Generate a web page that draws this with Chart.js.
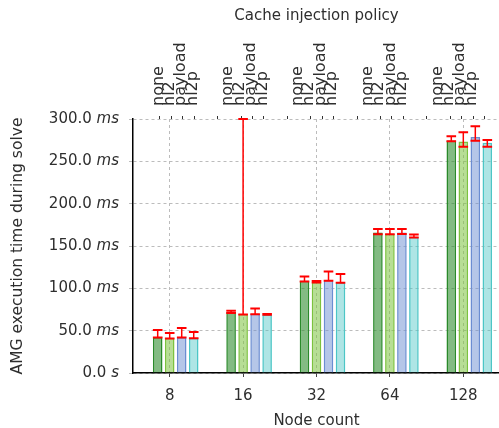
<!DOCTYPE html>
<html>
<head>
<meta charset="utf-8">
<script src="https://cdn.jsdelivr.net/npm/chart.js@4/dist/chart.umd.min.js"></script>
<style>
  html, body { margin: 0; padding: 0; background: #fff; overflow: hidden; }
  canvas { display: block; }
</style>
</head>
<body>
<canvas id="chart" width="500" height="428"></canvas>
<script>
// Node counts along the bottom axis, cache policies along the top axis
const NODE_COUNTS = ['8', '16', '32', '64', '128'];
const POLICIES = ['none', 'hl2', 'payload', 'hl2p'];

// AMG execution time during solve (ms), one value per node count
const TIME_NONE    = [42.2, 71.9, 108.9, 166.0, 274.6];
const TIME_HL2     = [41.4, 69.6, 107.5, 164.3, 273.5];
const TIME_PAYLOAD = [42.2, 70.0, 109.7, 166.0, 278.6];
const TIME_HL2P    = [41.4, 69.1, 106.9, 160.5, 272.0];

// Error bar extents (ms)
const LOW_NONE     = [41.8, 71.0, 108.0, 164.0, 273.8];
const LOW_HL2      = [40.8, 69.0, 107.0, 164.0, 267.3];
const LOW_PAYLOAD  = [41.8, 69.5, 109.0, 164.3, 274.4];
const LOW_HL2P     = [41.0, 68.8, 106.5, 160.0, 267.3];
const HIGH_NONE    = [50.8, 73.5, 114.0, 170.2, 279.5];
const HIGH_HL2     = [47.3, 300.0, 108.8, 170.2, 284.3];
const HIGH_PAYLOAD = [53.2, 76.2, 119.8, 170.2, 291.5];
const HIGH_HL2P    = [48.5, 69.8, 116.8, 163.5, 275.2];

// Y axis tick labels
const Y_TICKS = [0, 50, 100, 150, 200, 250, 300];

const FONT_FAMILY = 'DejaVu Sans';
const TEXT_COLOR = '#2e2e2e';
const GRID_COLOR = '#bcbcbc';
const CAT_PCT = 0.818;
const BAR_PCT = 0.8;
const SLOTS = POLICIES.length + 1;   // one empty slot leads each group

const series = [
  { label: POLICIES[0], data: TIME_NONE,    low: LOW_NONE,    high: HIGH_NONE,    border: '#2a8a2a', fill: 'rgba(42,138,42,0.58)' },
  { label: POLICIES[1], data: TIME_HL2,     low: LOW_HL2,     high: HIGH_HL2,     border: '#7cc23e', fill: 'rgba(124,194,62,0.55)' },
  { label: POLICIES[2], data: TIME_PAYLOAD, low: LOW_PAYLOAD, high: HIGH_PAYLOAD, border: '#6b8dd2', fill: 'rgba(107,141,210,0.5)' },
  { label: POLICIES[3], data: TIME_HL2P,    low: LOW_HL2P,    high: HIGH_HL2P,    border: '#4cc6c6', fill: 'rgba(76,198,198,0.45)' }
];

const datasets = [
  { label: '', data: NODE_COUNTS.map(() => null) }
].concat(series.map(s => ({
  label: s.label,
  data: s.data,
  errLow: s.low,
  errHigh: s.high,
  backgroundColor: s.fill,
  borderColor: s.border,
  borderWidth: { left: 1.5, right: 1.5, top: 1.5, bottom: 0 },
  borderSkipped: 'start'
})));

// Top axis tick positions: one per bar, in category units
const topTickValues = [];
NODE_COUNTS.forEach((_, g) => {
  POLICIES.forEach((_, k) => {
    topTickValues.push(g + (k + 1 - (SLOTS - 1) / 2) * CAT_PCT / SLOTS);
  });
});

const errorBars = {
  id: 'errorBars',
  afterDatasetsDraw(chart) {
    const ctx = chart.ctx;
    const yScale = chart.scales.y;
    ctx.save();
    ctx.strokeStyle = '#ff0000';
    chart.data.datasets.forEach((ds, di) => {
      if (!ds.errLow) return;
      const meta = chart.getDatasetMeta(di);
      meta.data.forEach((bar, i) => {
        const x = bar.x;
        const half = bar.width / 2;
        const yl = yScale.getPixelForValue(ds.errLow[i]);
        const yh = yScale.getPixelForValue(ds.errHigh[i]);
        ctx.lineWidth = 1.5;
        ctx.beginPath();
        ctx.moveTo(x, yl);
        ctx.lineTo(x, yh);
        ctx.stroke();
        ctx.lineWidth = 2;
        ctx.beginPath();
        ctx.moveTo(x - half, yl);
        ctx.lineTo(x + half, yl);
        ctx.moveTo(x - half, yh);
        ctx.lineTo(x + half, yh);
        ctx.stroke();
      });
    });
    ctx.restore();
  }
};

// Y tick labels: number upright, unit in italics
const yLabels = {
  id: 'yLabels',
  afterDraw(chart) {
    const ctx = chart.ctx;
    const yScale = chart.scales.y;
    const xRight = chart.chartArea.left - 14;
    ctx.save();
    ctx.fillStyle = TEXT_COLOR;
    ctx.textBaseline = 'middle';
    ctx.textAlign = 'right';
    Y_TICKS.forEach(v => {
      const py = yScale.getPixelForValue(v);
      const unit = v === 0 ? 's' : 'ms';
      ctx.font = 'italic 15px "' + FONT_FAMILY + '"';
      const uw = ctx.measureText(unit).width;
      ctx.fillText(unit, xRight, py);
      ctx.font = '15px "' + FONT_FAMILY + '"';
      ctx.fillText(v.toFixed(1) + ' ', xRight - uw, py);
    });
    ctx.restore();
  }
};

const font = { family: FONT_FAMILY, size: 15 };

new Chart(document.getElementById('chart'), {
  type: 'bar',
  data: { labels: NODE_COUNTS, datasets },
  options: {
    responsive: false,
    animation: false,
    devicePixelRatio: 1,
    categoryPercentage: CAT_PCT,
    barPercentage: BAR_PCT,
    layout: { padding: 0 },
    plugins: {
      legend: { display: false },
      title: { display: false },
      tooltip: { enabled: false }
    },
    scales: {
      x: {
        type: 'category',
        position: 'bottom',
        offset: true,
        grid: { offset: false, color: GRID_COLOR, lineWidth: 1, tickLength: 4, tickColor: '#444' },
        border: { display: true, color: '#000', width: 1.5, dash: [3, 3] },
        ticks: { font, color: TEXT_COLOR, padding: 10, maxRotation: 0 },
        title: { display: true, text: 'Node count', font, color: TEXT_COLOR, padding: { top: 0, bottom: -2 } },
        afterFit(s) { s.height = 55; }
      },
      top: {
        type: 'linear',
        position: 'top',
        min: -0.5,
        max: NODE_COUNTS.length - 0.5,
        afterBuildTicks(s) { s.ticks = topTickValues.map(v => ({ value: v })); },
        grid: { drawOnChartArea: false, tickLength: 3, tickColor: '#333' },
        border: { display: false },
        ticks: {
          autoSkip: false,
          minRotation: 90,
          maxRotation: 90,
          padding: 10,
          labelOffset: 12,
          font: { family: FONT_FAMILY, size: 16 },
          color: TEXT_COLOR,
          callback: (v, i) => POLICIES[i % POLICIES.length]
        },
        title: { display: true, text: 'Cache injection policy', font, color: TEXT_COLOR, padding: { top: 7, bottom: 0 } },
        afterFit(s) { s.height = 119; }
      },
      y: {
        min: 0,
        max: 300,
        afterBuildTicks(s) { s.ticks = Y_TICKS.map(v => ({ value: v })); },
        grid: { color: GRID_COLOR, lineWidth: 1, tickLength: 4, tickColor: GRID_COLOR },
        border: { display: true, color: '#000', width: 1.5, dash: [3, 3] },
        ticks: { display: false },
        title: { display: true, text: 'AMG execution time during solve', font: { family: FONT_FAMILY, size: 15.5 }, color: TEXT_COLOR, padding: { top: 9, bottom: 0 } },
        afterFit(s) { s.width = 133; }
      }
    }
  },
  plugins: [errorBars, yLabels]
});
</script>
</body>
</html>
